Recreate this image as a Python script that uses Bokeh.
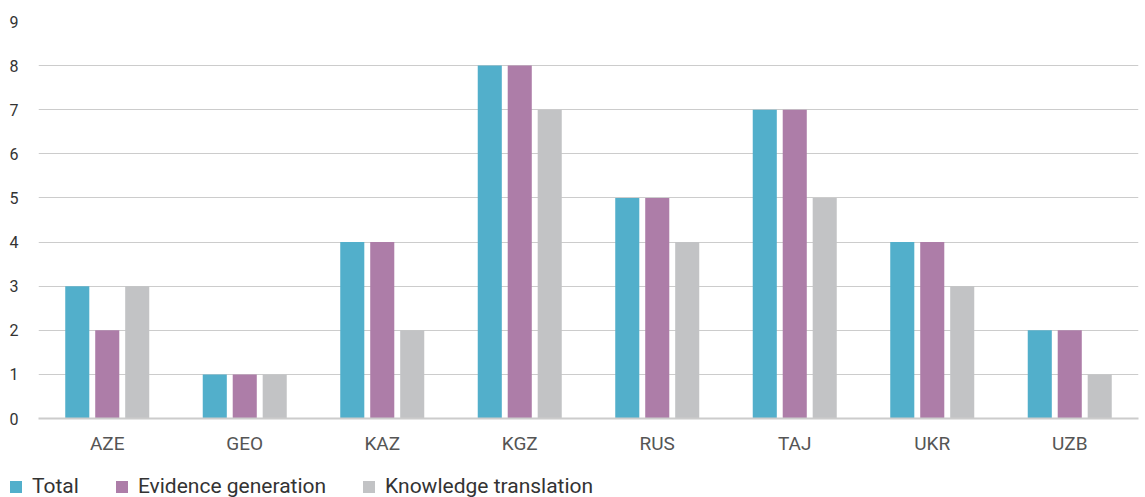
from bokeh.plotting import figure
from bokeh.layouts import column
from bokeh.models import ColumnDataSource, Legend, LegendItem, Range1d, FactorRange, SingleIntervalTicker
from bokeh.transform import dodge
from bokeh.embed import file_html
from bokeh.resources import INLINE

countries = ["AZE", "GEO", "KAZ", "KGZ", "RUS", "TAJ", "UKR", "UZB"]
total = [3, 1, 4, 8, 5, 7, 4, 2]
evidence = [2, 1, 4, 8, 5, 7, 4, 2]
knowledge = [3, 1, 2, 7, 4, 5, 3, 1]
series_names = ["Total", "Evidence generation", "Knowledge translation"]
colors = ["#52AFCB", "#AD7DA8", "#C2C3C5"]

src = ColumnDataSource(dict(c=countries, total=total, evidence=evidence, knowledge=knowledge))
cols = ["total", "evidence", "knowledge"]
offsets = [-0.218, 0.0, 0.218]

FONT = "Roboto"
p = figure(x_range=FactorRange(*countries), y_range=Range1d(0, 9),
           width=1140, height=457, output_backend="svg", toolbar_location=None,
           min_border_left=38, min_border_right=2, min_border_top=21, min_border_bottom=39)
p.outline_line_color = None
p.background_fill_color = "white"
p.frame_align = False

w = 0.175
for i in range(3):
    p.vbar(x=dodge("c", offsets[i], range=p.x_range), top=cols[i], width=w, source=src,
           color=colors[i], line_color=None)

p.xgrid.grid_line_color = None
p.ygrid.grid_line_color = "#CCCCCC"
p.ygrid.grid_line_width = 1
p.yaxis.ticker = SingleIntervalTicker(interval=1)
p.yaxis.axis_line_color = None
p.yaxis.major_tick_line_color = None
p.yaxis.minor_tick_line_color = None
p.yaxis.major_label_text_font = FONT
p.yaxis.major_label_text_font_size = "16px"
p.yaxis.major_label_text_color = "#333333"
p.yaxis.major_label_standoff = 14

p.xaxis.axis_line_color = "#CCCCCC"
p.xaxis.axis_line_width = 2
p.xaxis.major_tick_line_color = None
p.xaxis.minor_tick_line_color = None
p.xaxis.major_label_text_font = FONT
p.xaxis.major_label_text_font_size = "19px"
p.xaxis.major_label_text_color = "#555555"
p.xaxis.major_label_standoff = 7

# legend in a separate strip below the chart (its bars lie outside the visible range)
lg = figure(width=1140, height=40, output_backend="svg", toolbar_location=None,
            x_range=p.x_range, y_range=Range1d(100, 101),
            x_axis_location=None, y_axis_location=None,
            min_border_left=0, min_border_right=0, min_border_top=0, min_border_bottom=0)
lg.frame_align = False
lg.grid.visible = False
lg.outline_line_color = None
g = [lg.vbar(x=dodge("c", offsets[i], range=lg.x_range), top=cols[i], width=w, source=src,
             color=colors[i], line_color=None) for i in range(3)]

legend = Legend(items=[LegendItem(label=series_names[i], renderers=[g[i]]) for i in range(3)],
                orientation="horizontal", location=(8, -1),
                label_text_font=FONT, label_text_font_size="21px", label_text_color="#333333",
                glyph_width=15, glyph_height=15, label_standoff=9, spacing=35,
                padding=0, margin=0, border_line_color=None, background_fill_alpha=0)
lg.add_layout(legend, "center")

open("out.html", "w").write(file_html(column(p, lg, spacing=0), INLINE))
